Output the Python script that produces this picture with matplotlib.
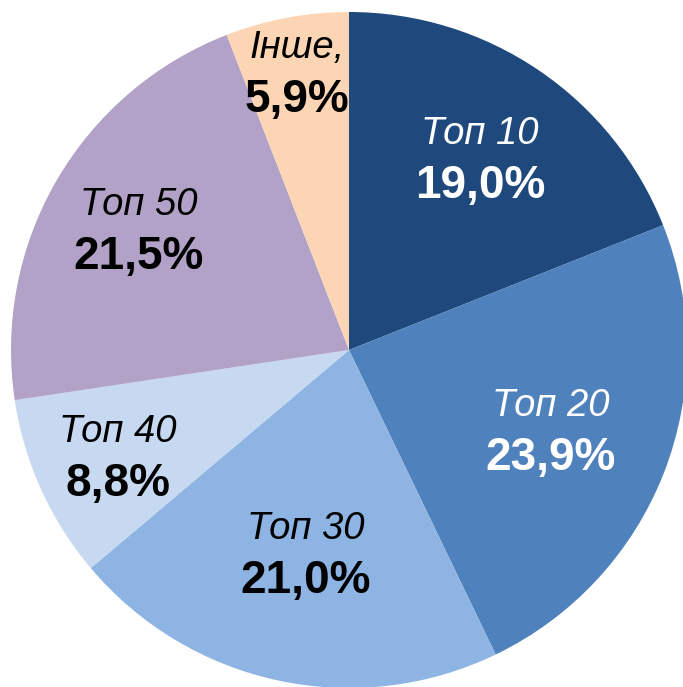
import matplotlib
matplotlib.use("Agg")
import matplotlib.pyplot as plt
import numpy as np

categories = ["Топ 10", "Топ 20", "Топ 30", "Топ 40", "Топ 50", "Інше,"]
values = [19.0, 23.9, 21.0, 8.8, 21.5, 5.9]
pct_labels = ["19,0%", "23,9%", "21,0%", "8,8%", "21,5%", "5,9%"]

colors = ["#1F497D", "#4F81BD", "#8DB4E2", "#C6D9F1", "#B2A2C7", "#FCD5B5"]
text_colors = ["white", "white", "black", "black", "black", "black"]
label_r = [0.69, 0.64, 0.61, 0.75, 0.72, 0.84]

plt.rcParams['font.family'] = ['Liberation Sans', 'DejaVu Sans']

W, H = 683, 687
fig = plt.figure(figsize=(W / 100, H / 100), dpi=100)
cx, cy, R = 349, 350, 338
ax = fig.add_axes([(cx - R) / W, (H - cy - R) / H, 2 * R / W, 2 * R / H])
wedges, _ = ax.pie(values, colors=colors, startangle=90, counterclock=False,
                   radius=1, wedgeprops=dict(linewidth=0))
ax.set_xlim(-1, 1)
ax.set_ylim(-1, 1)
ax.set_aspect('equal')
ax.axis('off')

for w, name, pct, tc, r in zip(wedges, categories, pct_labels, text_colors, label_r):
    ang = np.deg2rad((w.theta1 + w.theta2) / 2)
    x, y = r * np.cos(ang), r * np.sin(ang)
    ax.annotate(name, (x, y), xytext=(0, 9.4), textcoords='offset points',
                ha='center', va='baseline', fontsize=27.5, style='italic', color=tc)
    ax.annotate(pct, (x, y), xytext=(0, -29.5), textcoords='offset points',
                ha='center', va='baseline', fontsize=33, fontweight='bold', color=tc)

fig.savefig("out.png", dpi=100)
